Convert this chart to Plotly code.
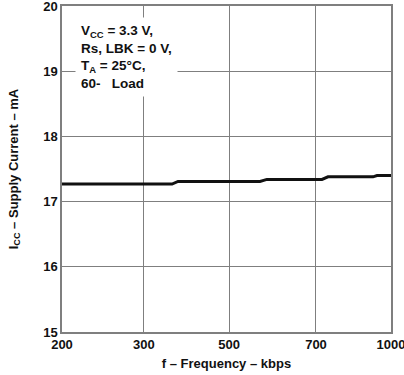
import numpy as np
import plotly.graph_objects as go

# ---- data ----
freq_kbps = [200, 366, 380, 571, 587, 724, 748, 928, 944, 1000]
icc_ma = [17.27, 17.27, 17.31, 17.31, 17.34, 17.34, 17.38, 17.38, 17.40, 17.40]
x_tick_labels = [200, 300, 500, 700, 1000]
y_ticks = [15, 16, 17, 18, 19, 20]

# ---- axis scale (non-uniform frequency axis as in the original figure) ----
AXIS_STOPS = [0.0, 0.249, 0.508, 0.772, 1.0]


def fscale(f):
    return np.interp(f, x_tick_labels, AXIS_STOPS)


FONT = "Liberation Sans, Arial, Helvetica, sans-serif"
GRID = "#7f7f7f"

fig = go.Figure()
fig.add_trace(go.Scatter(
    x=fscale(freq_kbps), y=icc_ma, mode="lines",
    line=dict(color="#111111", width=3), showlegend=False, hoverinfo="skip"))

fig.update_layout(
    width=404, height=375,
    margin=dict(l=62, r=13, t=6, b=43),
    paper_bgcolor="white", plot_bgcolor="white",
    font=dict(family=FONT, size=13, color="#111111"),
    xaxis=dict(
        range=[0, 1], tickmode="array", automargin=False,
        tickvals=fscale(x_tick_labels), ticktext=[f"<b>{v}</b>" for v in x_tick_labels],
        showgrid=True, gridcolor=GRID, gridwidth=1,
        showline=True, linecolor=GRID, linewidth=1.5, mirror=True,
        ticks="", zeroline=False, fixedrange=True,
        tickfont=dict(size=13), ticklabeloverflow="allow",
        title=dict(text="<b>f – Frequency – kbps</b>", font=dict(size=13), standoff=8),
    ),
    yaxis=dict(
        range=[15, 20], tickmode="array", tickvals=y_ticks, automargin=False,
        ticktext=[f"<b>{v}</b>" for v in y_ticks],
        showgrid=True, gridcolor=GRID, gridwidth=1,
        showline=True, linecolor=GRID, linewidth=1.5, mirror=True,
        ticks="", zeroline=False, fixedrange=True,
        tickfont=dict(size=13), ticklabeloverflow="allow",
        title=dict(text="<b>I<sub>CC</sub> – Supply Current – mA</b>", font=dict(size=13), standoff=22),
    ),
)

fig.add_annotation(
    xref="paper", yref="paper", x=0.04, y=0.966,
    xanchor="left", yanchor="top", align="left", showarrow=False,
    text=("<b>V<sub>CC</sub> = 3.3 V,<br>Rs, LBK = 0 V,<br>"
          "T<sub>A</sub> = 25°C,<br>60-&nbsp;&nbsp;&nbsp;Load</b>"),
    font=dict(size=13.5, family=FONT, color="#111111"),
    bgcolor="white", borderpad=5,
)

fig.write_html(
    "out.html",
    config={"displayModeBar": False},
    post_script="document.body.style.margin='0';document.body.style.overflow='hidden';",
)
